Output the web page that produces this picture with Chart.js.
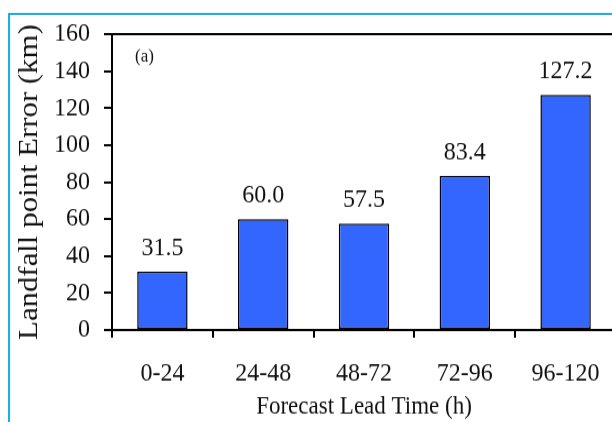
<!DOCTYPE html>
<html>
<head>
<meta charset="utf-8">
<script src="https://cdn.jsdelivr.net/npm/chart.js@4/dist/chart.umd.min.js"></script>
<style>
    html, body { margin: 0; padding: 0; background: #fff; overflow: hidden; }
    #wrap { position: relative; width: 620px; height: 422px; overflow: hidden; }
    /* the original figure is a little taller than it is wide, text included */
    #chart { transform: scaleY(1.1); transform-origin: 0 0; }
    #frame { position: absolute; left: 8px; top: 13px; right: 0; bottom: 0;
             border-left: 2px solid #14b1ec; border-top: 2px solid #14b1ec; pointer-events: none; }
</style>
</head>
<body>
<div id="wrap">
    <canvas id="chart" width="620" height="384"></canvas>
    <div id="frame"></div>
</div>
<script>
// data
const leadTimes = ['0-24', '24-48', '48-72', '72-96', '96-120'];
const landfallError = [31.5, 60.0, 57.5, 83.4, 127.2];
const yTicks = [0, 20, 40, 60, 80, 100, 120, 140, 160];

const serif = "'Liberation Serif', 'DejaVu Serif', serif";

// value labels over bars, the "(a)" tag and the top line of the plot box
const extras = {
    id: 'extras',
    afterDatasetsDraw(chart) {
        const ctx = chart.ctx;
        const area = chart.chartArea;
        ctx.save();
        ctx.fillStyle = '#111';
        ctx.font = '24px ' + serif;
        ctx.textAlign = 'center';
        ctx.textBaseline = 'alphabetic';
        chart.getDatasetMeta(0).data.forEach((bar, i) => {
            ctx.fillText(landfallError[i].toFixed(1), bar.x, bar.y - 15);
        });
        ctx.font = '17px ' + serif;
        ctx.textAlign = 'left';
        ctx.textBaseline = 'middle';
        ctx.fillText('(a)', area.left + 23, area.top + 21);
        ctx.strokeStyle = '#000';
        ctx.lineWidth = 2;
        ctx.beginPath();
        ctx.moveTo(area.left, area.top);
        ctx.lineTo(area.right, area.top);
        ctx.stroke();
        ctx.restore();
    }
};

new Chart(document.getElementById('chart'), {
    type: 'bar',
    data: {
        labels: leadTimes,
        datasets: [{
            data: landfallError,
            backgroundColor: '#3366ff',
            borderColor: '#000',
            borderWidth: 1.5,
            borderSkipped: false,
            barPercentage: 0.5,
            categoryPercentage: 1.0
        }]
    },
    options: {
        responsive: false,
        animation: false,
        layout: { padding: { top: 31, left: 0, right: 4, bottom: 0 } },
        plugins: { legend: { display: false }, tooltip: { enabled: false } },
        scales: {
            x: {
                afterFit: axis => { axis.height = 84; },
                grid: { display: true, offset: true, drawOnChartArea: false, color: '#000', tickLength: 7, lineWidth: 2 },
                border: { display: true, color: '#000', width: 2 },
                ticks: { color: '#111', font: { family: serif, size: 24 }, padding: 18, maxRotation: 0 },
                title: { display: true, text: 'Forecast Lead Time (h)', color: '#111',
                         font: { family: serif, size: 23 }, padding: { top: 0, bottom: 0 } }
            },
            y: {
                min: 0,
                max: 160,
                afterBuildTicks: axis => { axis.ticks = yTicks.map(v => ({ value: v })); },
                afterFit: axis => { axis.width = 112; },
                grid: { display: true, drawOnChartArea: false, color: '#000', tickLength: 8, lineWidth: 2 },
                border: { display: true, color: '#000', width: 2 },
                ticks: { color: '#111', font: { family: serif, size: 24 }, padding: 14 },
                title: { display: true, text: 'Landfall point Error (km)', color: '#111',
                         font: { family: serif, size: 28 }, padding: { top: 13, bottom: 0 } }
            }
        }
    },
    plugins: [extras]
});
</script>
</body>
</html>
